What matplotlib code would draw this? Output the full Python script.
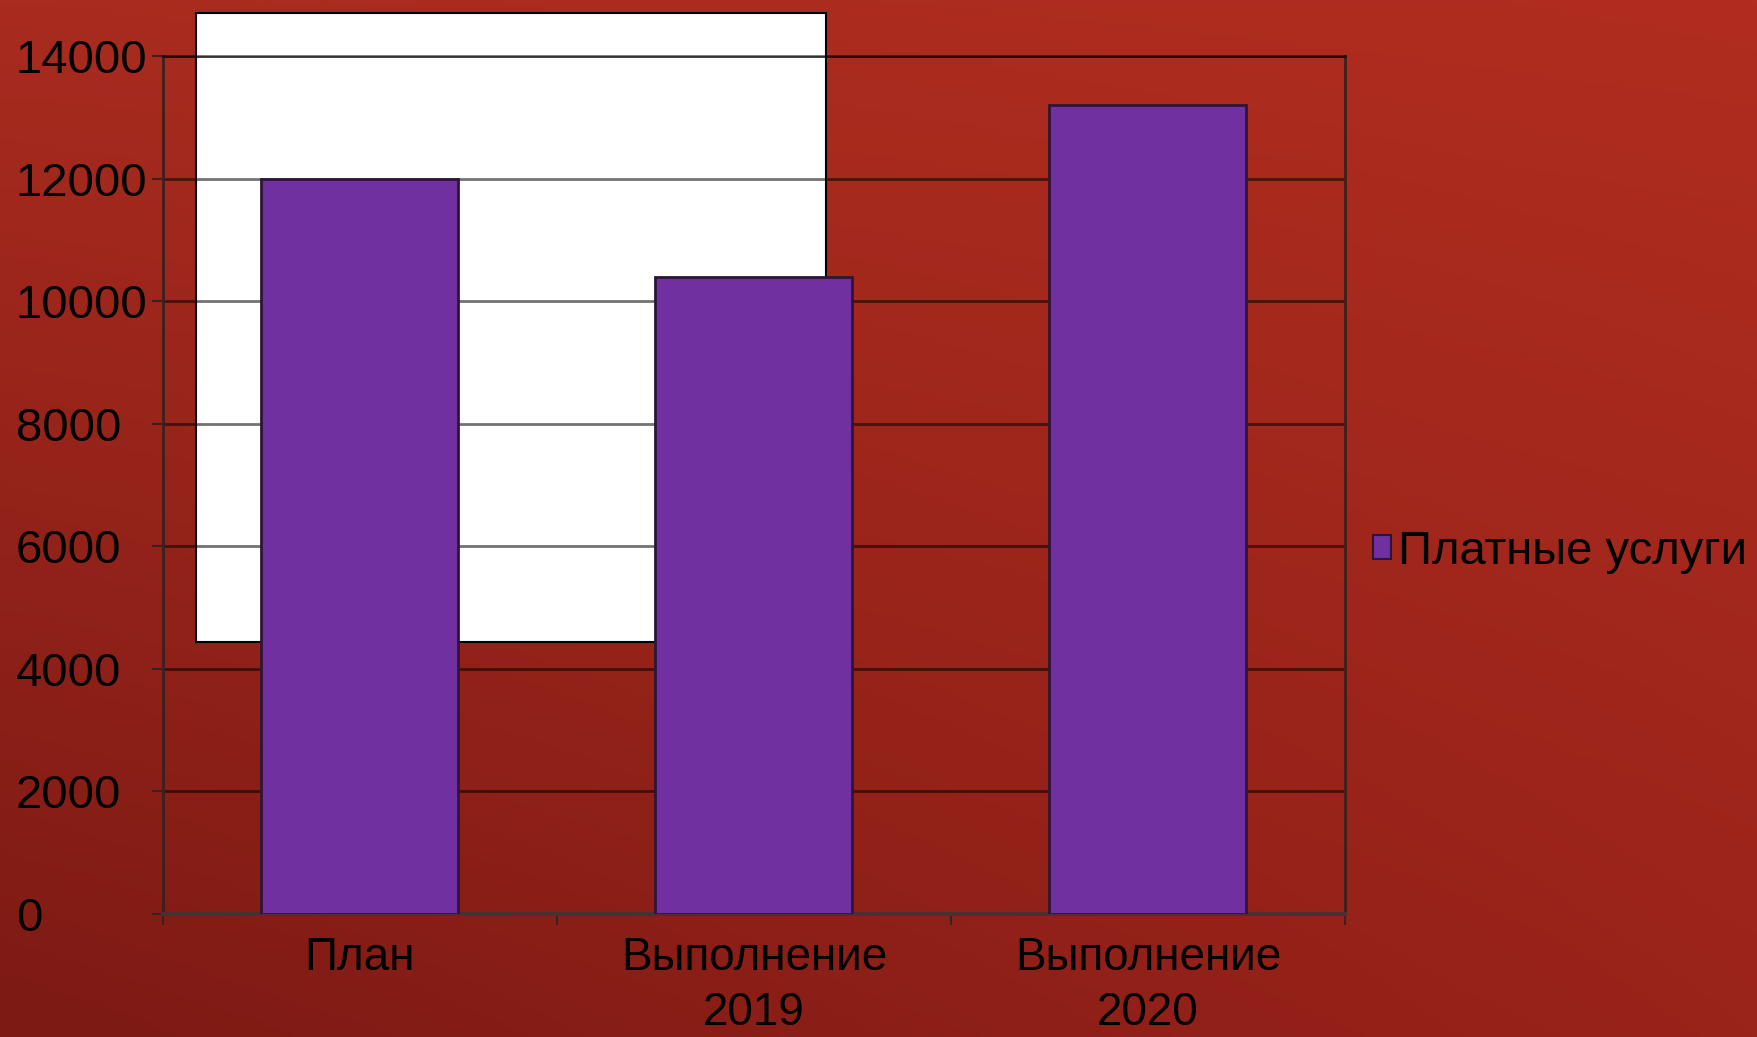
import numpy as np
import matplotlib
matplotlib.use("Agg")
import matplotlib.pyplot as plt
from matplotlib.patches import Rectangle, Patch

categories = ["План", "Выполнение\n2019", "Выполнение\n2020"]
values = [12000, 10400, 13200]
series_name = "Платные услуги"
yticks = [0, 2000, 4000, 6000, 8000, 10000, 12000, 14000]

plt.rcParams['font.family'] = ['Liberation Sans', 'DejaVu Sans']

W, H = 1758, 1037
fig = plt.figure(figsize=(W / 100, H / 100), dpi=100)

# gradient background (bilinear between corner colours)
def hexrgb(h):
    return np.array([int(h[i:i + 2], 16) for i in (1, 3, 5)]) / 255.0

c_bl, c_br = hexrgb("#7c1a14"), hexrgb("#9a231a")
c_tl, c_tr = hexrgb("#a92b1f"), hexrgb("#b02d1f")
yy, xx = np.mgrid[0:1:200j, 0:1:300j]
xx = xx[..., None]
yy = yy[..., None]
img = (c_bl * (1 - xx) * (1 - yy) + c_br * xx * (1 - yy)
       + c_tl * (1 - xx) * yy + c_tr * xx * yy)
bg = fig.add_axes([0, 0, 1, 1], zorder=-10)
bg.imshow(img, origin="lower", extent=[0, 1, 0, 1], aspect="auto")
bg.set_axis_off()

# white overlay rectangle (behind chart)
rect = Rectangle((196 / W, 1 - 642 / H), (826 - 196) / W, (642 - 13) / H,
                 transform=fig.transFigure, facecolor="white",
                 edgecolor="black", linewidth=1.5, zorder=-5)
fig.patches.append(rect)

ax = fig.add_axes([163 / W, 123 / H, (1345 - 163) / W, (981 - 123) / H], zorder=0)
ax.patch.set_alpha(0)

x = np.arange(len(categories))
ax.bar(x, values, width=0.5, color="#7030a0", edgecolor="#2e1538",
       linewidth=2, zorder=3)
ax.set_xlim(-0.5, len(categories) - 0.5)
ax.set_ylim(0, 14000)
ax.set_yticks(yticks)
ax.set_yticklabels([str(v) for v in yticks])
ax.yaxis.grid(True, color="black", alpha=0.55, linewidth=2, zorder=1)
ax.set_axisbelow(True)

ax.set_xticks(x)
ax.set_xticklabels(categories, linespacing=1.33)
ax.set_xticks(np.arange(len(categories) + 1) - 0.5, minor=True)
ax.tick_params(axis="x", which="major", length=0, pad=16, labelsize=33)
ax.tick_params(axis="x", which="minor", length=8, width=1.5, color="#3a2020", direction="out")
ax.tick_params(axis="y", length=8, width=1.5, color="#3a2020", direction="out",
               pad=98, labelsize=34)
for lbl in ax.get_yticklabels():
    lbl.set_ha("left")

for s in ax.spines.values():
    s.set_color("#3a2020")
    s.set_linewidth(2)
ax.spines["bottom"].set_color("#4a3030")
ax.spines["bottom"].set_linewidth(3)
ax.spines["top"].set_color((0, 0, 0, 0.55))

handle = Patch(facecolor="#7030a0", edgecolor="#2e1538", linewidth=1.5)
fig.legend([handle], [series_name], loc="center left",
           bbox_to_anchor=(1373 / W, 1 - 552 / H), frameon=False,
           fontsize=34, handlelength=0.38, handleheight=0.38,
           handletextpad=0.15, borderpad=0, borderaxespad=0)

fig.savefig("out.png", dpi=100)
